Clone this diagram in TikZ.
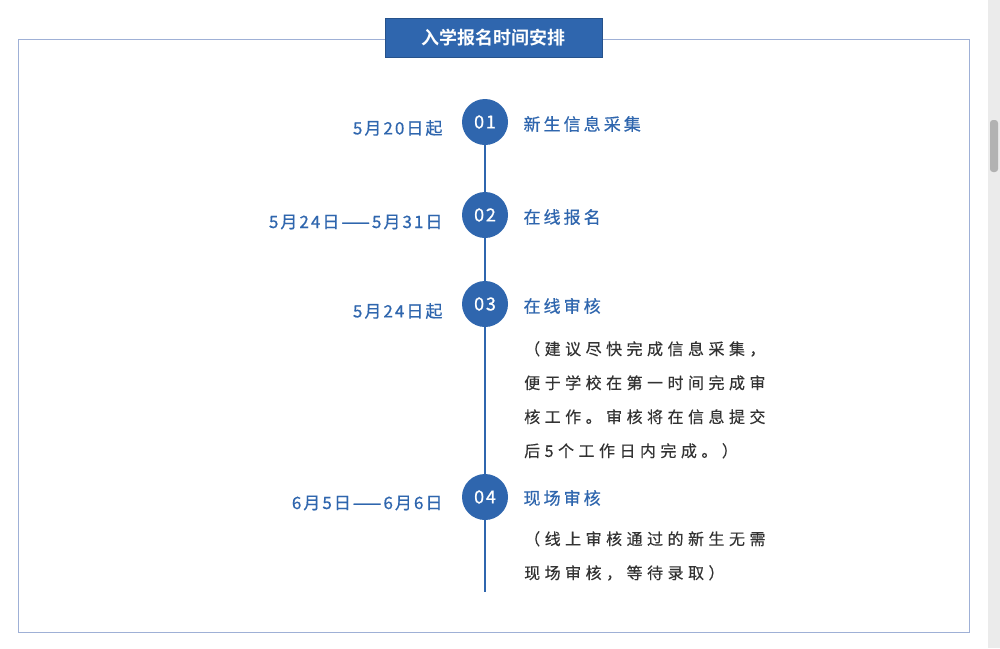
\documentclass[tikz,border=0pt]{standalone}
\usepackage{fontspec}
\setmainfont{Noto Sans CJK SC}
\newfontfamily\cjkb{Noto Sans CJK SC Bold}
\newfontfamily\cjks[LetterSpace=28,FakeBold=0.3]{Noto Sans CJK SC}
\newfontfamily\cjkm[LetterSpace=18,FakeBold=0.6]{Noto Sans CJK SC}
\newfontfamily\cjkd[LetterSpace=12,FakeBold=0.6]{Noto Sans CJK SC}
\newfontfamily\cjkn[LetterSpace=10,FakeBold=0.8]{Noto Sans CJK SC}
\definecolor{blu}{HTML}{2F66AE}
\definecolor{frm}{HTML}{9FB0D6}
\begin{document}
\begin{tikzpicture}[x=1pt,y=-1pt,
  dot/.style={circle,fill=blu,minimum size=46pt,inner sep=0pt,text=white,font=\fontsize{18}{18}\cjkn},
  date/.style={anchor=east,text=blu,font=\fontsize{17}{17}\cjkd},
  lab/.style={anchor=west,text=blu,font=\fontsize{17}{17}\cjkm},
  desc/.style={anchor=north west,text=black!80,font=\fontsize{16}{34}\cjks,align=left,inner sep=0pt}]
\useasboundingbox (0,0) rectangle (1000,648);
\fill[white] (0,0) rectangle (1000,648);
\fill[black!8] (988,0) rectangle (1000,648);
\fill[black!30,rounded corners=3pt] (990,120) rectangle (998,172);
\draw[frm] (18,39) rectangle (969,632);
\node[fill=blu,draw=blu!80!black,minimum width=217pt,minimum height=39pt,inner sep=0pt,text=white,font=\fontsize{18}{18}\cjkb] (title) at (493.5,37.5) {入学报名时间安排};
\coordinate (end) at (485,592);
\node[dot] (c1) at (485,122) {01};
\node[dot] (c2) at (485,215) {02};
\node[dot] (c3) at (485,304) {03};
\node[dot] (c4) at (485,497) {04};
\draw[blu,line width=2pt] (c1) -- (c2);
\draw[blu,line width=2pt] (c2) -- (c3);
\draw[blu,line width=2pt] (c3) -- (c4);
\draw[blu,line width=2pt] (c4) -- (end);
\node[date] (d1) at (446,128) {5月20日起};
\node[date] (d2) at (446,222) {5月24日——5月31日};
\node[date] (d3) at (446,311) {5月24日起};
\node[date] (d4) at (446,503) {6月5日——6月6日};
\node[lab] (l1) at (520,124) {新生信息采集};
\node[lab] (l2) at (520,217) {在线报名};
\node[lab] (l3) at (520,306) {在线审核};
\node[lab] (l4) at (520,498) {现场审核};
\node[desc] (t3) at (524,341) {（建议尽快完成信息采集，\\便于学校在第一时间完成审\\核工作。审核将在信息提交\\后5个工作日内完成。）};
\node[desc] (t4) at (524,531) {（线上审核通过的新生无需\\现场审核，等待录取）};
\end{tikzpicture}
\end{document}
